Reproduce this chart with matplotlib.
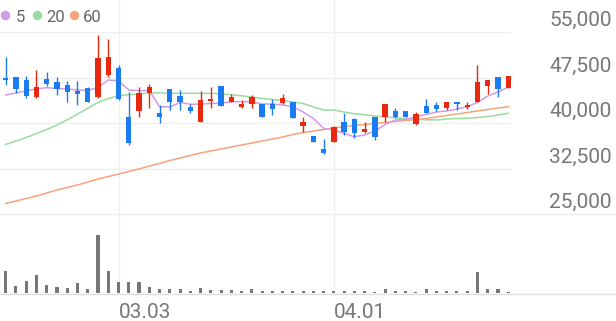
import matplotlib
matplotlib.use("Agg")
import matplotlib.pyplot as plt
import numpy as np
from matplotlib import transforms
from matplotlib.lines import Line2D

# trading days shown on the chart (MM.DD)
dates = [
    "02.10", "02.11", "02.12", "02.13", "02.19", "02.20", "02.23", "02.24", "02.25", "02.26",
    "02.27", "03.03", "03.04", "03.05", "03.06", "03.09", "03.10", "03.11", "03.12", "03.13",
    "03.16", "03.17", "03.18", "03.19", "03.20", "03.23", "03.24", "03.25", "03.26", "03.27",
    "03.30", "03.31", "04.01", "04.02", "04.03", "04.06", "04.07", "04.08", "04.09", "04.10",
    "04.13", "04.14", "04.15", "04.16", "04.17", "04.20", "04.21", "04.22", "04.23", "04.24",
]

opens = [
    47450, 47550, 47100, 44250, 47250, 46700, 46250, 45300, 45700, 44350,
    47900, 49000, 40950, 42050, 44900, 41700, 45550, 44400, 42700, 40200,
    43700, 46150, 43500, 42600, 43100, 43100, 43100, 43250, 43400, 39500,
    37850, 35750, 36950, 40200, 40650, 38550, 40950, 40950, 42050, 42050,
    39800, 42800, 42950, 42500, 43500, 42700, 43500, 46100, 47550, 45800,
]
highs = [
    50950, 47550, 47800, 48750, 48350, 47650, 46900, 46900, 45950, 54500,
    53850, 49550, 45150, 46000, 46400, 42950, 45550, 45450, 43200, 45350,
    45900, 46150, 44750, 43800, 44600, 43100, 43900, 44800, 43400, 41050,
    37850, 37300, 39450, 41700, 40800, 40200, 41050, 43100, 42500, 42050,
    41750, 43900, 43500, 43500, 43500, 43500, 49550, 47100, 47550, 47750,
]
lows = [
    46250, 44900, 44150, 44050, 46150, 44600, 43450, 42950, 43450, 44050,
    47650, 43800, 36350, 41050, 42400, 39950, 42150, 42150, 41600, 40200,
    42500, 42850, 43400, 42500, 42500, 41000, 41300, 43100, 40800, 38500,
    36900, 34900, 36900, 38000, 37500, 38400, 37200, 40200, 40800, 41050,
    39650, 41600, 41950, 42150, 42150, 42250, 43500, 44750, 44250, 45800,
]
closes = [
    47050, 45600, 44450, 45900, 46500, 45600, 45150, 44750, 43450, 50750,
    50950, 43950, 36650, 44900, 45950, 41050, 43400, 43450, 41950, 43800,
    43900, 42850, 44350, 43100, 44350, 41050, 42300, 44050, 40800, 40150,
    36900, 35000, 39400, 38500, 38400, 39000, 37750, 43100, 41050, 41050,
    41450, 41700, 42250, 43500, 43100, 42950, 46800, 47100, 45550, 47750,
]

# moving averages as drawn on the chart
ma5 = [
    44620, 44950, 45280, 45610, 45820, 45690, 45610, 45440, 45360, 45850,
    47090, 46970, 45440, 45330, 45360, 42690, 42640, 43380, 43080, 43130,
    43220, 43250, 43510, 43510, 43460, 43130, 43130, 42970, 42690, 41810,
    40740, 39130, 38850, 38270, 37740, 38020, 38680, 39750, 40500, 40580,
    41040, 41400, 41810, 41980, 42310, 42690, 43380, 44450, 45110, 45900,
]
ma20 = [
    36460, 37030, 37610, 38270, 38930, 39670, 40500, 41480, 42420, 43380,
    44040, 44500, 44670, 44780, 44950, 44950, 44900, 44900, 44900, 44900,
    44900, 44810, 44650, 44480, 44290, 44040, 43870, 43710, 43460, 43220,
    42640, 42140, 42140, 41810, 41520, 41350, 41160, 40990, 40870, 40740,
    40610, 40530, 40500, 40660, 40740, 40780, 40910, 41070, 41320, 41600,
]
ma60 = [
    26730, 27140, 27560, 27970, 28460, 28960, 29370, 29780, 30280, 30770,
    31180, 31590, 32010, 32420, 32910, 33330, 33820, 34230, 34640, 35060,
    35390, 35720, 36040, 36370, 36700, 37030, 37360, 37690, 38110, 38430,
    38680, 38930, 39180, 39420, 39590, 39750, 39920, 40080, 40250, 40410,
    40580, 40740, 40990, 41240, 41480, 41730, 41980, 42230, 42470, 42690,
]

# volume, thousand shares
volume = [
    1100, 350, 635, 900, 435, 315, 265, 515, 235, 2900,
    1100, 565, 565, 565, 300, 235, 215, 215, 135, 265,
    185, 185, 185, 100, 215, 125, 100, 125, 125, 125,
    125, 100, 125, 100, 100, 125, 75, 200, 100, 100,
    75, 200, 125, 125, 125, 100, 1050, 225, 200, 50,
]

price_ticks = [25000, 32500, 40000, 47500, 55000]
ma_names = ["5", "20", "60"]

UP = "#e8290f"
DOWN = "#1a7cf0"
MA_COLORS = ["#d29be8", "#98dca0", "#f8a37c"]

plt.rcParams["font.family"] = ["Roboto", "DejaVu Sans"]

W, H = 616, 321
fig = plt.figure(figsize=(W / 100, H / 100), dpi=100)
ax = fig.add_axes([0, 1 - 214 / H, 511 / W, (214 - 32) / H])
axv = fig.add_axes([0, 1 - 293.3 / H, 511 / W, (293.3 - 225) / H])

x = np.arange(len(dates))
o = np.array(opens)
c = np.array(closes)
colors = np.where(c >= o, UP, DOWN)

for level in price_ticks[1:]:
    ax.axhline(level, color="#eeeeee", lw=1, zorder=0)
# lowest grid line runs across the whole width
htr = transforms.blended_transform_factory(fig.transFigure, ax.transData)
fig.add_artist(Line2D([0, 1], [price_ticks[0]] * 2, transform=htr,
                      color="#eeeeee", lw=1, zorder=0))

for ma, col in zip([ma60, ma20, ma5], MA_COLORS[::-1]):
    ax.plot(x, ma, color=col, lw=1.1, zorder=2)

ax.vlines(x, lows, highs, colors=colors, lw=1.0, zorder=3)
ax.bar(x, np.maximum(np.abs(c - o), 120), bottom=np.minimum(o, c),
       width=0.52, color=colors, zorder=4)

ax.set_xlim(-0.556, 49.27)
ax.set_ylim(25000, 55000)
axv.bar(x, volume, width=0.3, color="#767676")
axv.set_xlim(-0.556, 49.27)
axv.set_ylim(0, max(volume) * 68.3 / 58)

for a in (ax, axv):
    a.set_axis_off()

# price labels on the right, sitting above their grid lines
lab_tr = transforms.offset_copy(htr, fig=fig, y=6, units="dots")
for level in price_ticks:
    ax.text(612 / W, level, f"{level:,}", transform=lab_tr, ha="right",
            va="baseline", fontsize=15, color="#777777", clip_on=False)

# month starts: vertical grid and date labels
month_starts = [i for i in range(1, len(dates)) if dates[i][:2] != dates[i - 1][:2]]
vtr = transforms.blended_transform_factory(ax.transData, fig.transFigure)
for i in month_starts:
    fig.add_artist(Line2D([i, i], [1 - 293 / H, 1], transform=vtr,
                          color="#f0f0f0", lw=1, zorder=0))
    fig.text(i, 1 - 318 / H, dates[i], transform=vtr, ha="left",
             va="baseline", fontsize=15, color="#777777")

# volume baseline across the whole width
fig.add_artist(Line2D([0, 1], [1 - 293.5 / H] * 2, transform=fig.transFigure,
                      color="#dddddd", lw=1))

# legend
for name, col, mx, tx in zip(ma_names, MA_COLORS, [5.3, 37, 74], [16, 46.7, 83.3]):
    fig.add_artist(Line2D([mx / W], [1 - 15 / H], transform=fig.transFigure,
                          marker="o", ms=5.8, color=col, lw=0))
    fig.text(tx / W, 1 - 21.7 / H, name, ha="left", va="baseline",
             fontsize=12, color="#666666")

fig.savefig("out.png", dpi=100)
